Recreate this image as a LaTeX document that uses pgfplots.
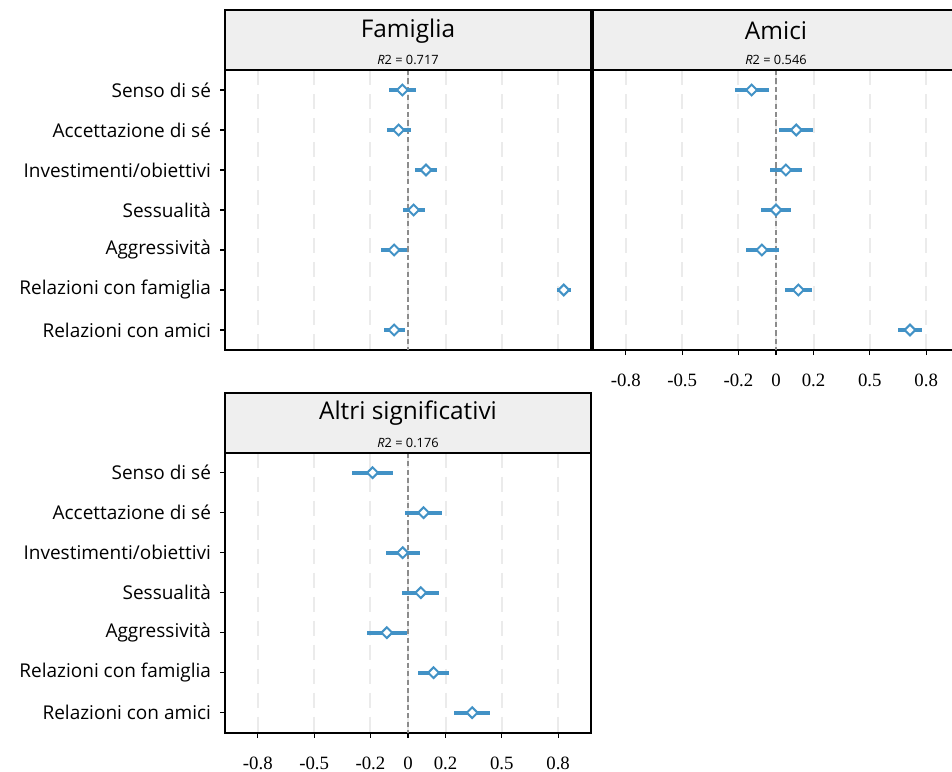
\documentclass[border=0pt]{standalone}
\usepackage{pgfplots}
\pgfplotsset{compat=1.18}
\usepackage{pgfplotstable}
\usepackage{fontspec}
\setmainfont{Open Sans}
\newfontfamily\tickfont{Liberation Serif}
\definecolor{bl}{HTML}{4292C6}
\definecolor{stripc}{HTML}{EFEFEF}
\definecolor{gridc}{HTML}{EBEBEB}
\definecolor{zeroc}{HTML}{8C8C8C}

\pgfplotstableread{
x y ep em
-0.030 1 0.073 0.071
-0.050 2 0.066 0.063
0.096 3 0.060 0.059
0.030 4 0.059 0.055
-0.074 5 0.069 0.070
0.830 6 0.039 0.036
-0.074 7 0.056 0.054
}\tabFam

\pgfplotstableread{
x y ep em
-0.130 1 0.093 0.087
0.108 2 0.089 0.090
0.053 3 0.083 0.083
0.000 4 0.080 0.080
-0.075 5 0.089 0.085
0.119 6 0.072 0.069
0.714 7 0.063 0.062
}\tabAmi

\pgfplotstableread{
x y ep em
-0.189 1 0.109 0.107
0.083 2 0.100 0.101
-0.028 3 0.092 0.091
0.068 4 0.099 0.098
-0.113 5 0.106 0.107
0.136 6 0.084 0.084
0.342 7 0.093 0.099
}\tabAltri

\pgfplotsset{
  forest/.style={
    width=183pt, height=140pt, scale only axis,
    xmin=-0.975, xmax=0.975, ymin=0.5, ymax=7.5, y dir=reverse,
    xtick={-0.8,-0.5,-0.2,0,0.2,0.5,0.8},
    xticklabels={-0.8,-0.5,-0.2,0,0.2,0.5,0.8},
    ytick={1,2,3,4,5,6,7},
    yticklabels={Senso di sé,Accettazione di sé,Investimenti/obiettivi,Sessualità,Aggressività,Relazioni con famiglia,Relazioni con amici},
    axis line style={line width=1pt, black},
    tick style={black, line width=0.6pt},
    tick align=outside, major tick length=2.5pt,
    xtick pos=bottom, ytick pos=left,
    xmajorgrids,
    major grid style={gridc, line width=1pt, dash pattern=on 7.5pt off 4.5pt},
    yticklabel style={font=\fontsize{9.5}{11}\selectfont, xshift=-1pt},
    xticklabel style={font=\tickfont\fontsize{9.4}{10}\selectfont, yshift=-6pt},
  },
  errs/.style={draw=none, mark=none, forget plot,
    error bars/.cd, x dir=both, x explicit, error mark=none,
    error bar style={bl, line width=2.2pt}},
  dia/.style={only marks, mark=square*, mark size=1.9pt,
    mark options={rotate=45, fill=white, draw=bl, line width=1pt}},
  zl/.style={zeroc, line width=1.1pt, dash pattern=on 2.6pt off 1.6pt, forget plot},
}

\newcommand{\strip}[3]{%
  \draw[fill=stripc, line width=1pt] (#1.north west) rectangle ([yshift=30pt]#1.north east);
  \node[font=\fontsize{12.2}{14}\selectfont, inner sep=0pt] at ([yshift=19.6pt]#1.north) {#2};
  \node[font=\fontsize{6.4}{7.5}\selectfont, inner sep=0pt] at ([yshift=5pt]#1.north) {\textit{R}2 = #3};
}

\begin{document}
\begin{tikzpicture}
\useasboundingbox (0,0) rectangle (476pt,385.5pt);

\begin{axis}[forest, name=fam, at={(112.5pt,210.5pt)}, anchor=south west,
  xticklabels={}, xtick style={draw=none}]
  \addplot[zl] coordinates {(0,0.5) (0,7.5)};
  \addplot[errs] table[x=x, y=y, x error plus=ep, x error minus=em] {\tabFam};
  \addplot[dia] table[x=x, y=y] {\tabFam};
\end{axis}

\begin{axis}[forest, name=ami, at={(296.5pt,210.5pt)}, anchor=south west,
  yticklabels={}, ytick style={draw=none}]
  \addplot[zl] coordinates {(0,0.5) (0,7.5)};
  \addplot[errs] table[x=x, y=y, x error plus=ep, x error minus=em] {\tabAmi};
  \addplot[dia] table[x=x, y=y] {\tabAmi};
\end{axis}

\begin{axis}[forest, name=alt, at={(112.5pt,19.15pt)}, anchor=south west]
  \addplot[zl] coordinates {(0,0.5) (0,7.5)};
  \addplot[errs] table[x=x, y=y, x error plus=ep, x error minus=em] {\tabAltri};
  \addplot[dia] table[x=x, y=y] {\tabAltri};
\end{axis}

\strip{fam}{Famiglia}{0.717}
\strip{ami}{Amici}{0.546}
\strip{alt}{Altri significativi}{0.176}
\end{tikzpicture}
\end{document}
